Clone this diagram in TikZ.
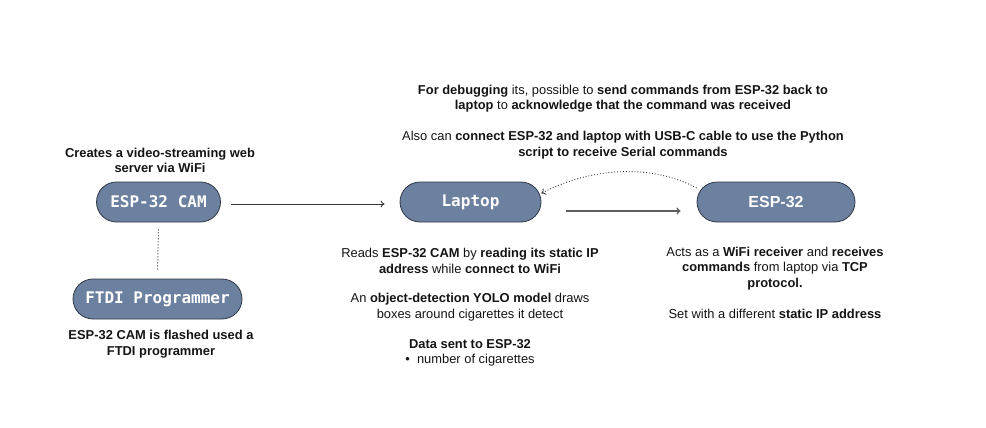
\documentclass[tikz,border=0pt]{standalone}
\usepackage{fontspec}
\setmainfont{Liberation Sans}
\setmonofont{DejaVu Sans Mono}
\usetikzlibrary{calc,arrows.meta}
\definecolor{nodefill}{RGB}{108,128,160}
\definecolor{nodeline}{RGB}{48,56,70}
\definecolor{txt}{RGB}{20,20,20}
\definecolor{arr}{RGB}{55,55,55}
\tikzset{
  pill/.style={draw=nodeline, line width=0.8pt, fill=nodefill, rounded corners=20pt,
    minimum height=40pt, text=white, inner sep=0pt},
  monolab/.style={font=\fontsize{16}{18}\selectfont\ttfamily\bfseries},
  sanslab/.style={font=\fontsize{16}{18}\selectfont\bfseries},
  note/.style={align=center, text=txt, font=\fontsize{12.9}{15.5}\selectfont, inner sep=0pt},
  link/.style={draw=arr, line width=0.9pt, -{To[length=4pt,width=7pt]}},
}
\begin{document}
\begin{tikzpicture}[x=1pt,y=-1pt]
\useasboundingbox (0,0) rectangle (986,428);
\node[pill,monolab,minimum width=124pt] (cam) at (158.5,202) {ESP-32 CAM};
\node[pill,monolab,minimum width=169pt] (ftdi) at (157.5,299) {FTDI Programmer};
\node[pill,monolab,minimum width=141pt] (lap) at (470.5,202) {Laptop};
\node[pill,sanslab,minimum width=158pt] (esp) at (776,202) {ESP-32};

\node[note] (tcam) at (160,160.5) {\textbf{Creates a video-streaming web}\\\textbf{server via WiFi}};
\node[note] (tftdi) at (161,344) {\textbf{ESP-32 CAM is flashed used a}\\\textbf{FTDI programmer}};
\node[note] (tdebug) at (623,98.5) {\textbf{For debugging} its, possible to \textbf{send commands from ESP-32 back to}\\\textbf{laptop} to \textbf{acknowledge that the command was received}};
\node[note] (tusb) at (623,145) {Also can \textbf{connect ESP-32 and laptop with USB-C cable to use the Python}\\\textbf{script to receive Serial commands}};
\node[note] (tread) at (470,261) {Reads \textbf{ESP-32 CAM} by \textbf{reading its static IP}\\\textbf{address} while \textbf{connect to WiFi}};
\node[note] (tyolo) at (470,307) {An \textbf{object-detection YOLO model} draws\\boxes around cigarettes it detect};
\node[note] (tdata) at (470,353) {\textbf{Data sent to ESP-32}\\\textbullet\ \ number of cigarettes};
\node[note] (tacts) at (775,268.5) {Acts as a \textbf{WiFi receiver} and \textbf{receives}\\\textbf{commands} from laptop via \textbf{TCP}\\\textbf{protocol.}};
\node[note] (tset) at (775,314) {Set with a different \textbf{static IP address}};

\draw[link, shorten <=10pt, shorten >=15pt] ([yshift=-2pt]cam.east) -- ([yshift=-2pt]lap.west);
\coordinate (a2s) at ($(lap.east)+(25,9)$);
\coordinate (a2e) at ($(esp.west)+(-16,9)$);
\draw[link, line width=1.3pt, draw=arr!80] (a2s) -- (a2e);
\draw[arr, line width=0.9pt, dotted, -{To[length=4pt,width=7pt]}] (esp.170) .. controls (650,163) and (590,168) .. (lap.7);
\draw[arr, line width=1pt, dotted] ($(cam.south)+(0,7)$) -- ($(ftdi.north)+(0,-8)$);
\end{tikzpicture}
\end{document}
